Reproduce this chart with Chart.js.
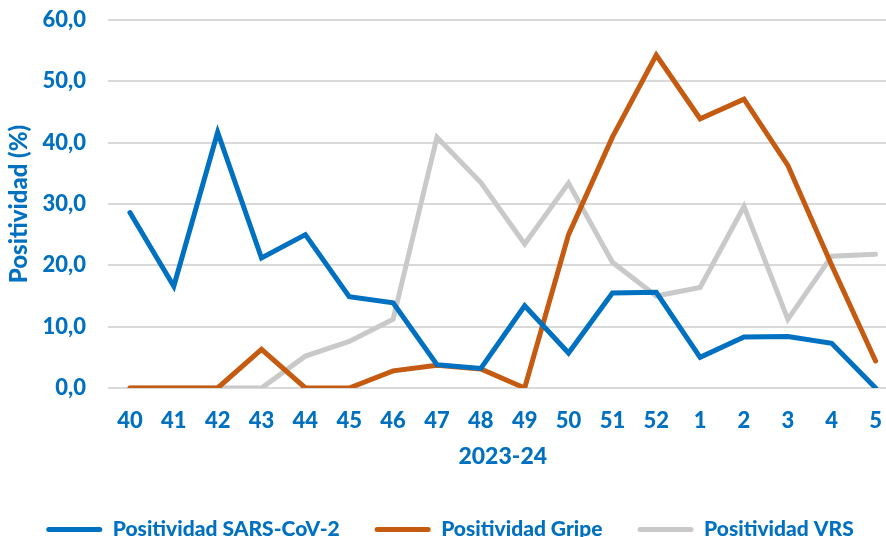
<!DOCTYPE html>
<html>
<head>
<meta charset="utf-8">
<script src="https://cdn.jsdelivr.net/npm/chart.js@4"></script>
<style>
  body { margin: 0; background: #fff; }
  #wrap { width: 886px; height: 537px; overflow: hidden; }
</style>
</head>
<body>
<div id="wrap"><canvas id="grafico" width="902" height="537"></canvas></div>
<script>
// datos
const semanas = ['40', '41', '42', '43', '44', '45', '46', '47', '48', '49', '50', '51', '52', '1', '2', '3', '4', '5']
const sarsCov2 = [28.6, 16.6, 41.7, 21.2, 25.0, 14.9, 13.9, 3.8, 3.2, 13.4, 5.7, 15.5, 15.6, 5.0, 8.3, 8.4, 7.3, 0.0]
const gripe = [0.0, 0.0, 0.0, 6.3, 0.0, 0.0, 2.8, 3.7, 3.1, 0.0, 25.0, 40.9, 54.3, 43.9, 47.1, 36.3, 20.0, 4.4]
const vrs = [0.0, 0.0, 0.0, 0.0, 5.2, 7.6, 11.2, 40.9, 33.5, 23.5, 33.4, 20.5, 15.0, 16.4, 29.6, 11.2, 21.5, 21.8]
const ticksY = [0, 10, 20, 30, 40, 50, 60]

const azul = '#0070C0'
const fuente = 'Lato, "Open Sans", sans-serif'

Chart.defaults.font.family = fuente
Chart.defaults.font.weight = 900
Chart.defaults.color = azul

function serie(nombre, datos, color) {
  return {
    label: nombre,
    data: datos,
    borderColor: color,
    backgroundColor: color,
    borderWidth: 5,
    pointRadius: 0,
    tension: 0,
    fill: false,
    borderCapStyle: 'round',
    borderJoinStyle: 'miter'
  }
}

const ctx = document.getElementById('grafico').getContext('2d')
const grafico = new Chart(ctx, {
  type: 'line',
  data: {
    labels: semanas,
    datasets: [
      serie('Positividad SARS-CoV-2', sarsCov2, '#0070C0'),
      serie('Positividad Gripe', gripe, '#C55A11'),
      serie('Positividad VRS', vrs, '#C9C9C9')
    ]
  },
  options: {
    responsive: false,
    animation: false,
    layout: { padding: { top: 20, right: 2, left: 0, bottom: -13 } },
    plugins: {
      tooltip: { enabled: false },
      legend: {
        position: 'bottom',
        labels: {
          boxWidth: 56,
          boxHeight: 5,
          padding: 35,
          color: azul,
          font: { size: 21, weight: 900 },
          generateLabels: (chart) => {
            return Chart.defaults.plugins.legend.labels.generateLabels(chart).map(l => {
              l.lineWidth = 0
              l.fillStyle = l.strokeStyle
              l.borderRadius = 2.5
              return l
            })
          },
          useBorderRadius: true
        }
      }
    },
    scales: {
      x: {
        offset: true,
        grid: { display: false, drawTicks: false },
        border: { display: false },
        ticks: { padding: 20, color: azul, font: { size: 22, weight: 900 }, maxRotation: 0, autoSkip: false },
        title: { display: true, text: '2023-24', color: azul, font: { size: 23, weight: 900 }, padding: { top: 8, bottom: 14 } },
        afterFit: (s) => { s.height = 96 }
      },
      y: {
        min: 0,
        max: 60,
        afterBuildTicks: (s) => { s.ticks = ticksY.map(v => ({ value: v })) },
        grid: { color: '#D9D9D9', lineWidth: 2, drawTicks: false },
        border: { display: false },
        ticks: {
          padding: 22,
          color: azul,
          font: { size: 22, weight: 900 },
          callback: (v) => v.toFixed(1).replace('.', ',')
        },
        title: { display: true, text: 'Positividad (%)', color: azul, font: { size: 24, weight: 900 }, padding: { top: 5, bottom: 0 } },
        afterFit: (s) => { s.width = 108; s.paddingTop = 0; s.paddingBottom = 0 }
      }
    }
  }
})
</script>
</body>
</html>
